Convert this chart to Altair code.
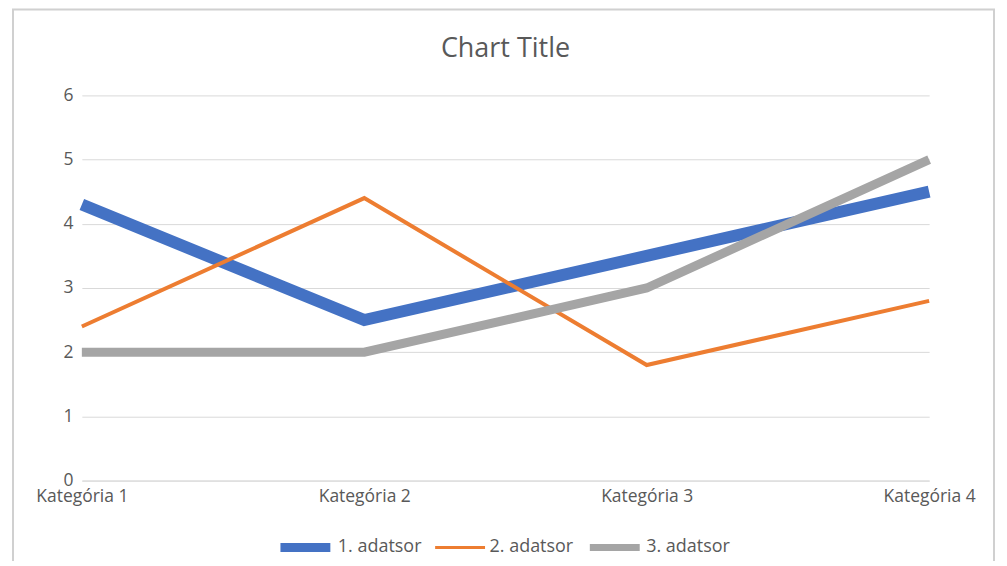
import altair as alt
import pandas as pd

categories = ["Kategória 1", "Kategória 2", "Kategória 3", "Kategória 4"]
series_names = ["1. adatsor", "2. adatsor", "3. adatsor"]
s1 = [4.3, 2.5, 3.5, 4.5]
s2 = [2.4, 4.4, 1.8, 2.8]
s3 = [2, 2, 3, 5]
colors = ["#4472C4", "#ED7D31", "#A5A5A5"]
widths = [12, 4, 9]
legend_widths = [9, 3, 7]
legend_left = [199, 354, 509]

rows = []
for name, vals in zip(series_names, [s1, s2, s3]):
    for c, v in zip(categories, vals):
        rows.append({"cat": c, "series": name, "value": v})
df = pd.DataFrame(rows)

FONT = "Open Sans"
GRAY = "#595959"

border = alt.Chart(pd.DataFrame({"a": [0]})).mark_rect(
    fillOpacity=0, stroke="#d0d0d0", strokeWidth=2
).encode(
    x=alt.value(-69), x2=alt.value(914), y=alt.value(-86), y2=alt.value(468)
)

x_enc = alt.X("cat:N", sort=categories,
              scale=alt.Scale(type="point", padding=0),
              axis=alt.Axis(title=None, labelAngle=0, ticks=False, grid=False,
                            domain=True, domainColor="#d9d9d9", labelPadding=7,
                            labelFontSize=17.5, labelColor=GRAY, labelFont=FONT))
y_enc = alt.Y("value:Q", scale=alt.Scale(domain=[0, 6], nice=False),
              axis=alt.Axis(title=None, values=[0, 1, 2, 3, 4, 5, 6], ticks=False,
                            domain=False, gridColor="#d9d9d9", labelPadding=9,
                            labelFontSize=17.5, labelColor=GRAY, labelFont=FONT))

layers = [border]
for name, col, w, lw, lx in zip(series_names, colors, widths, legend_widths, legend_left):
    layer = alt.Chart(df).transform_filter(
        alt.datum.series == name
    ).mark_line(strokeWidth=w, strokeCap="butt", strokeJoin="miter").encode(
        x=x_enc,
        y=y_enc,
        color=alt.Color("series:N",
                        scale=alt.Scale(domain=[name], range=[col]),
                        legend=alt.Legend(title=None, orient="none", direction="horizontal",
                                          legendX=lx - lw / 2, legendY=453 - (50 + lw) / 2,
                                          symbolType="stroke", symbolSize=2500,
                                          symbolStrokeWidth=lw,
                                          labelFontSize=18, labelColor=GRAY,
                                          labelFont=FONT, labelOffset=3)),
    )
    layers.append(layer)

chart = alt.layer(*layers).resolve_scale(color="independent").properties(
    width=849, height=386,
    title=alt.TitleParams("Chart Title", fontSize=27, font=FONT, color=GRAY,
                          fontWeight="normal", anchor="middle", offset=-55),
    autosize=alt.AutoSizeParams(type="none"),
    padding={"left": 74, "top": 87, "right": 70, "bottom": 80},
).configure_view(stroke=None)

chart.save("out.html", embed_options={"renderer": "svg", "actions": False})
